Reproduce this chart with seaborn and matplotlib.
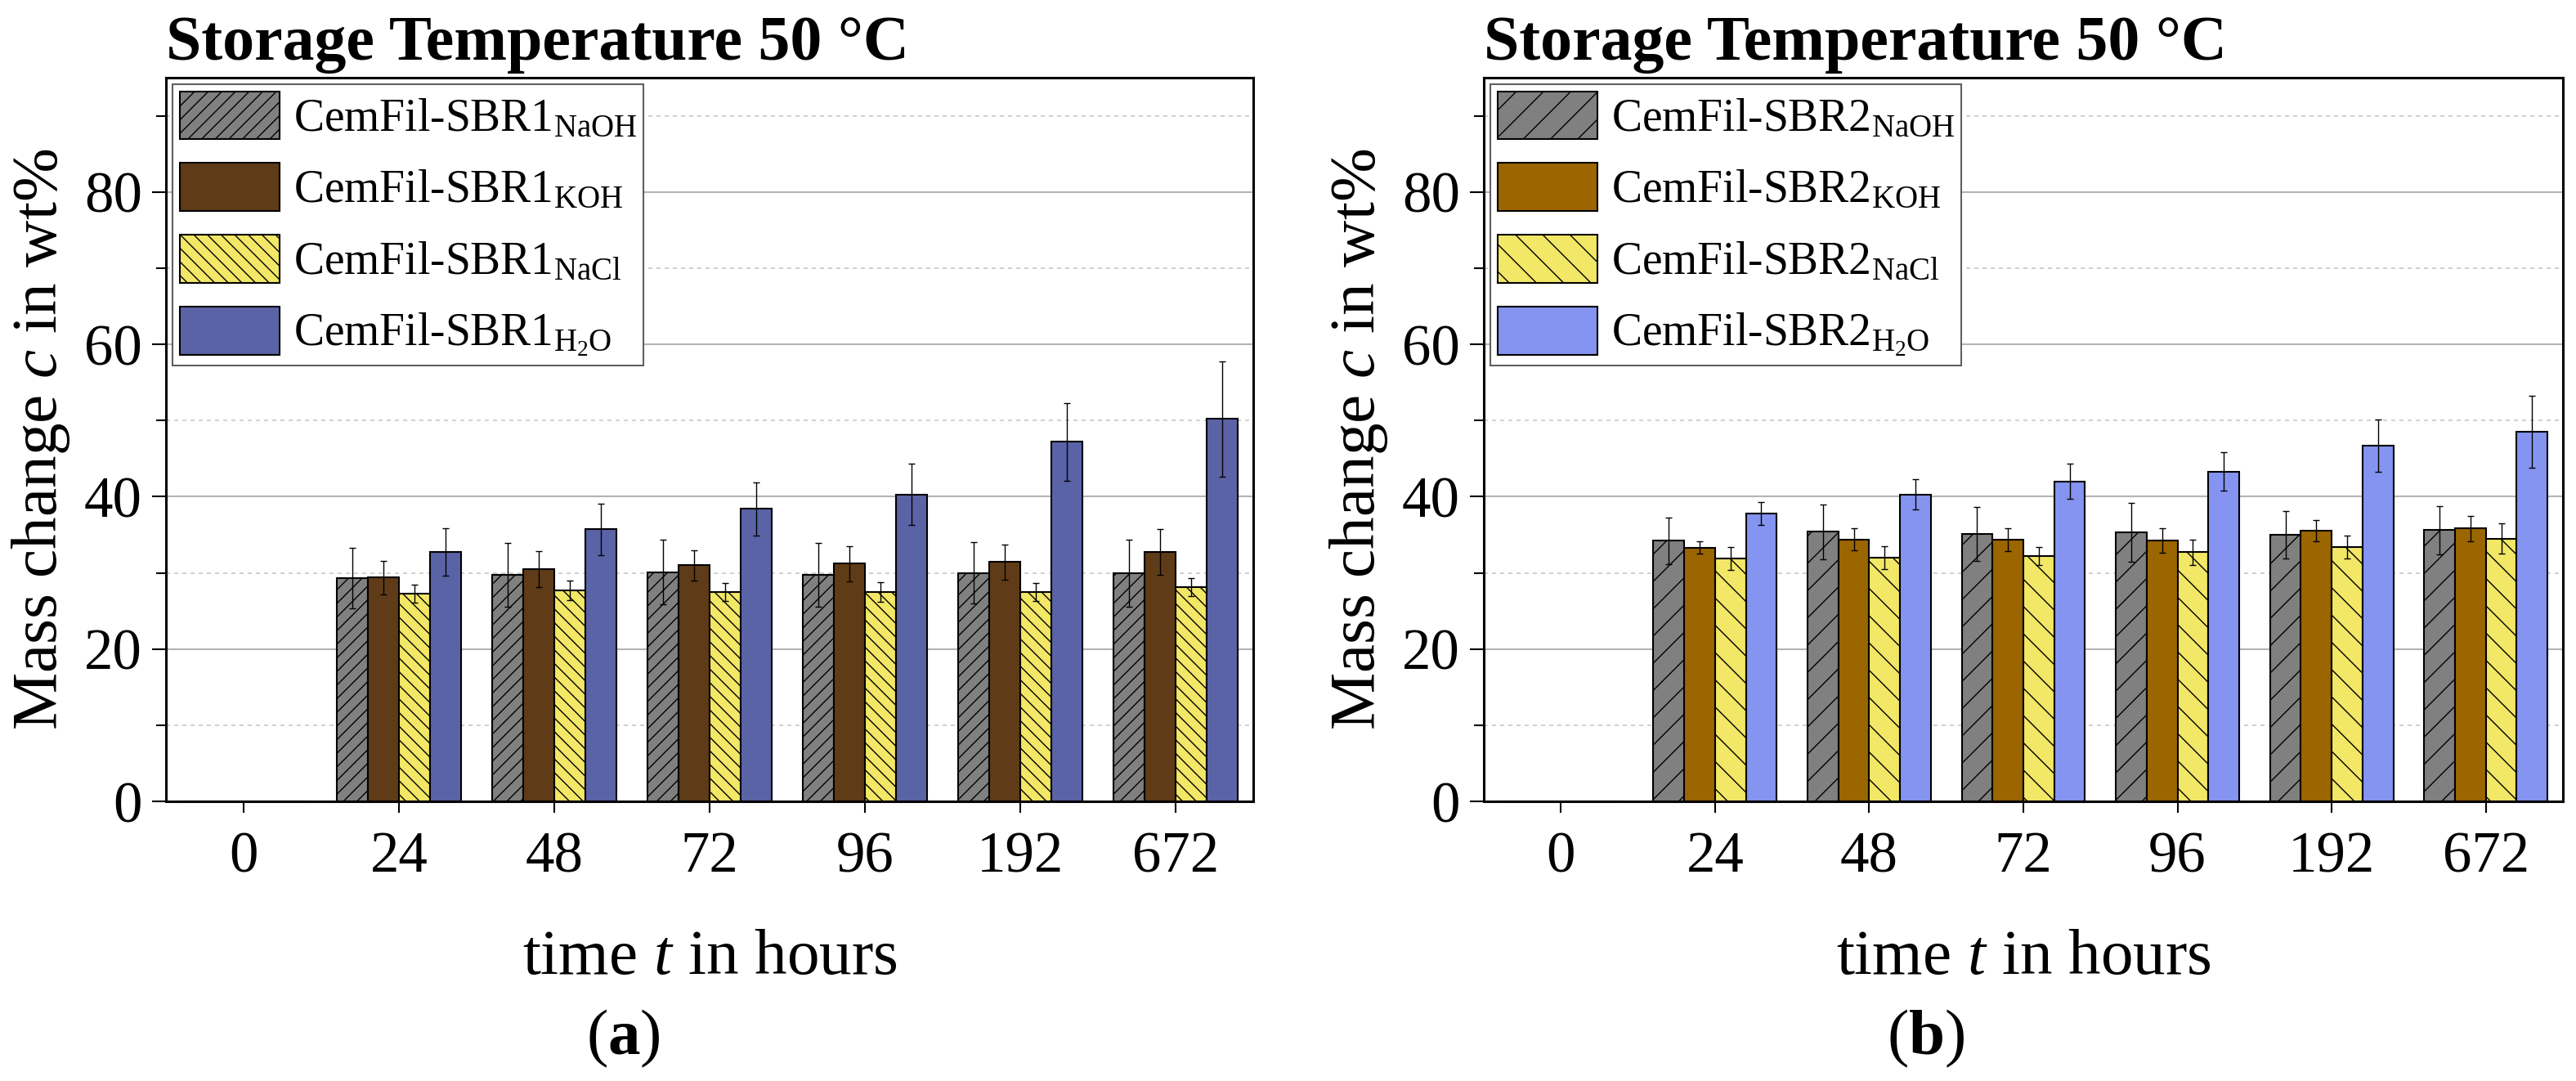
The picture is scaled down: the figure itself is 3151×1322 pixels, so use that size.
import numpy as np
import pandas as pd
import seaborn as sns
import matplotlib.pyplot as plt
from matplotlib.patches import Patch
from matplotlib.ticker import MultipleLocator

times = ["0", "24", "48", "72", "96", "192", "672"]
media = ["NaOH", "KOH", "NaCl", "H2O"]

# panel (a) CemFil-SBR1
a_naoh = [0, 29.3, 29.7, 30.1, 29.7, 30.0, 30.0]
a_naoh_err = [0, 4.0, 4.2, 4.2, 4.2, 4.0, 4.4]
a_koh = [0, 29.4, 30.5, 31.0, 31.2, 31.4, 32.7]
a_koh_err = [0, 2.2, 2.4, 2.0, 2.3, 2.3, 3.0]
a_nacl = [0, 27.3, 27.7, 27.5, 27.5, 27.5, 28.1]
a_nacl_err = [0, 1.2, 1.3, 1.2, 1.3, 1.2, 1.2]
a_h2o = [0, 32.7, 35.7, 38.4, 40.3, 47.2, 50.2]
a_h2o_err = [0, 3.1, 3.4, 3.5, 4.0, 5.1, 7.6]

# panel (b) CemFil-SBR2
b_naoh = [0, 34.2, 35.4, 35.1, 35.3, 35.0, 35.6]
b_naoh_err = [0, 3.1, 3.6, 3.5, 3.9, 3.1, 3.2]
b_koh = [0, 33.3, 34.4, 34.4, 34.2, 35.5, 35.8]
b_koh_err = [0, 0.8, 1.4, 1.5, 1.6, 1.4, 1.7]
b_nacl = [0, 31.9, 32.0, 32.2, 32.7, 33.4, 34.5]
b_nacl_err = [0, 1.5, 1.5, 1.2, 1.7, 1.5, 2.0]
b_h2o = [0, 37.8, 40.3, 42.0, 43.3, 46.7, 48.5]
b_h2o_err = [0, 1.5, 2.0, 2.3, 2.5, 3.4, 4.7]

colors_a = ["#808080", "#5f3c17", "#f2e766", "#5b63a7"]
colors_b = ["#808080", "#9b6500", "#f2e766", "#8494f0"]
hatches_a = ["//", "", "\\\\", ""]
hatches_b = ["/", "", "\\", ""]

sns.set_style("white")
plt.rcParams["font.family"] = ["Liberation Serif", "DejaVu Serif"]
plt.rcParams["mathtext.fontset"] = "custom"
plt.rcParams["mathtext.rm"] = "Liberation Serif"
plt.rcParams["mathtext.it"] = "Liberation Serif:italic"
plt.rcParams["mathtext.bf"] = "Liberation Serif:bold"
plt.rcParams["hatch.linewidth"] = 1.0
for key in ["text.color", "axes.labelcolor", "xtick.color", "ytick.color"]:
    plt.rcParams[key] = "black"


def draw_panel(ax, name, values, errors, colors, hatches):
    labels = [name + r"$_\mathrm{NaOH}$", name + r"$_\mathrm{KOH}$",
              name + r"$_\mathrm{NaCl}$", name + r"$_\mathrm{H_2O}$"]
    df = pd.DataFrame({
        "time": np.tile(times, 4),
        "medium": np.repeat(media, len(times)),
        "value": np.concatenate(values),
        "err": np.concatenate(errors),
    })
    sns.barplot(data=df, x="time", y="value", hue="medium", order=times,
                hue_order=media, palette=colors, errorbar=None, width=0.8,
                edgecolor="black", linewidth=1.5, saturation=1, ax=ax,
                legend=False, zorder=2)

    for cont, hatch, err in zip(ax.containers, hatches, errors):
        xs, ys, es = [], [], []
        for bar, e in zip(cont, err):
            bar.set_hatch(hatch)
            if bar.get_height() > 0:
                xs.append(bar.get_x() + bar.get_width() / 2)
                ys.append(bar.get_height())
                es.append(e)
        ax.errorbar(xs, ys, yerr=es, fmt="none", ecolor="black",
                    elinewidth=1.0, capsize=3, capthick=1.0, zorder=3)

    ax.set_xlim(-0.5, 6.5)
    ax.set_ylim(0, 95)
    ax.yaxis.set_major_locator(MultipleLocator(20))
    ax.yaxis.set_minor_locator(MultipleLocator(10))
    ax.set_yticks([0, 20, 40, 60, 80])
    ax.grid(axis="y", which="major", color="#b4b4b4", linewidth=1.5, zorder=0)
    ax.grid(axis="y", which="minor", color="#c8c8c8", linewidth=1.2,
            linestyle=(0, (3, 3)), zorder=0)
    ax.set_axisbelow(True)

    ax.tick_params(axis="y", which="major", direction="out", length=12,
                   width=1.5, labelsize=51, pad=9, left=True)
    ax.tick_params(axis="y", which="minor", direction="out", length=9,
                   width=1.5, left=True)
    ax.tick_params(axis="x", direction="out", length=10, width=1.5,
                   labelsize=51, pad=16, bottom=True)
    for sp in ax.spines.values():
        sp.set_visible(True)
        sp.set_color("black")
        sp.set_linewidth(2.2)

    ax.set_xlabel(r"time $t$ in hours", fontsize=57, labelpad=40)
    ax.set_ylabel(r"Mass change $c$ in wt%", fontsize=57, labelpad=11)
    ax.set_title("Storage Temperature 50 °C", loc="left", fontsize=56,
                 fontweight="bold", pad=16)

    handles = [Patch(facecolor=c, edgecolor="black", hatch=h, linewidth=1.5,
                     label=l) for c, h, l in zip(colors, hatches, labels)]
    leg = ax.legend(handles=handles, loc="upper left", fontsize=40,
                    handlelength=2.2, handleheight=1.25, labelspacing=0.5,
                    handletextpad=0.3, borderpad=0.15, borderaxespad=0.15,
                    fancybox=False, framealpha=1, edgecolor="#606060")
    leg.get_frame().set_linewidth(1.5)


fig = plt.figure(figsize=(31.51, 13.22), dpi=100)
ax1 = fig.add_axes([203 / 3151, 342 / 1322, 1330 / 3151, 885 / 1322])
ax2 = fig.add_axes([1815 / 3151, 342 / 1322, 1320 / 3151, 885 / 1322])

draw_panel(ax1, "CemFil-SBR1", [a_naoh, a_koh, a_nacl, a_h2o],
           [a_naoh_err, a_koh_err, a_nacl_err, a_h2o_err], colors_a, hatches_a)
draw_panel(ax2, "CemFil-SBR2", [b_naoh, b_koh, b_nacl, b_h2o],
           [b_naoh_err, b_koh_err, b_nacl_err, b_h2o_err], colors_b, hatches_b)

fig.text(762 / 3151, 1 - 1270 / 1322, r"($\mathbf{a}$)", fontsize=57,
         ha="center", va="center")
fig.text(2356 / 3151, 1 - 1270 / 1322, r"($\mathbf{b}$)", fontsize=57,
         ha="center", va="center")

fig.savefig("out.png", dpi=100)
